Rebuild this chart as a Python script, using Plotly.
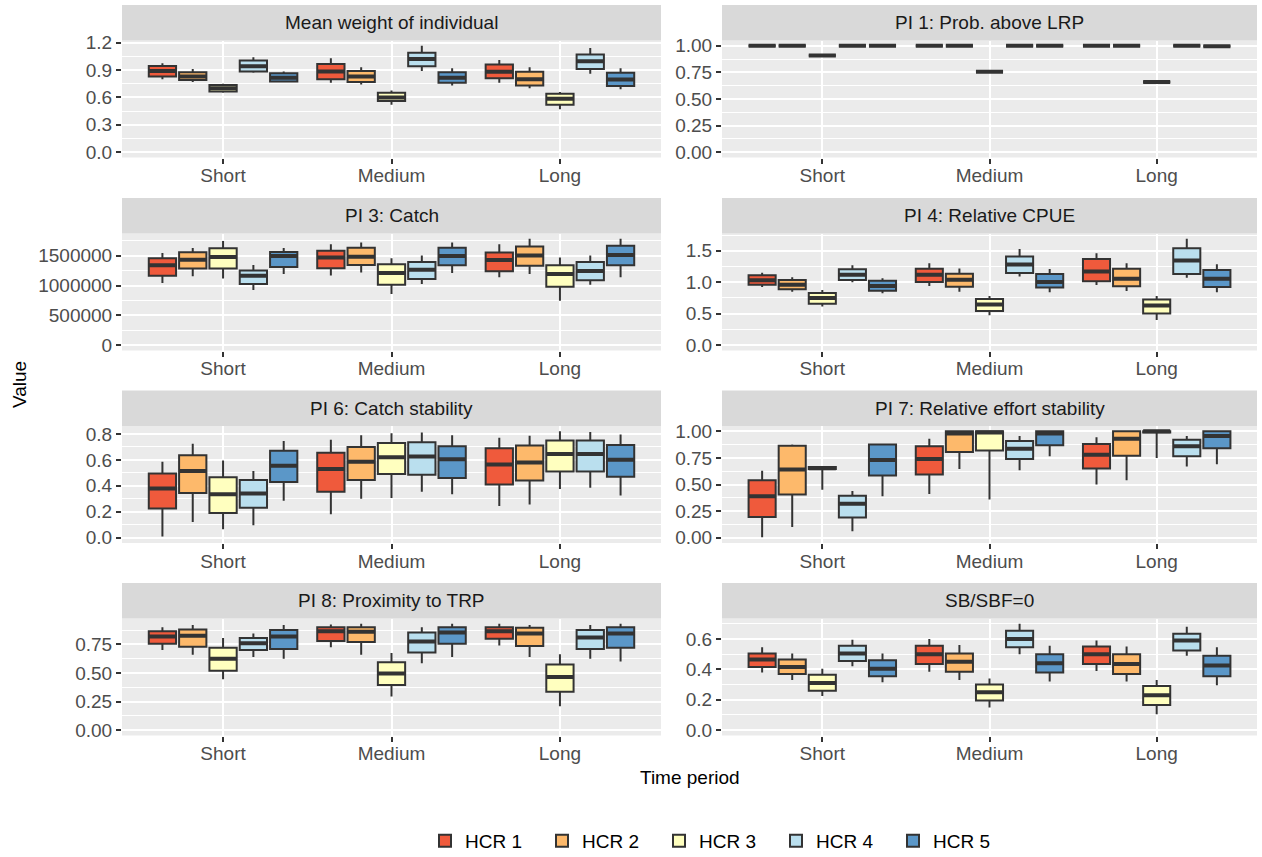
import plotly.graph_objects as go

# ---- categories and series -------------------------------------------------
periods = ["Short", "Medium", "Long"]
hcr_names = ["HCR 1", "HCR 2", "HCR 3", "HCR 4", "HCR 5"]
hcr_colors = ["#EF5A3C", "#FDB96B", "#FFFFBF", "#BADFEE", "#5B97C8"]

# Each stat array: one row per HCR, one value per period (Short, Medium, Long)

# Mean weight of individual
weight_lo = [[0.80, 0.76, 0.76], [0.77, 0.74, 0.70], [0.65, 0.52, 0.47], [0.87, 0.89, 0.86], [0.77, 0.73, 0.69]]
weight_q1 = [[0.83, 0.80, 0.81], [0.79, 0.77, 0.73], [0.665, 0.56, 0.52], [0.885, 0.94, 0.91], [0.775, 0.76, 0.725]]
weight_med = [[0.89, 0.885, 0.88], [0.83, 0.83, 0.80], [0.70, 0.60, 0.585], [0.94, 1.02, 0.995], [0.815, 0.815, 0.795]]
weight_q3 = [[0.945, 0.965, 0.96], [0.875, 0.89, 0.88], [0.735, 0.65, 0.64], [1.005, 1.09, 1.07], [0.865, 0.875, 0.87]]
weight_hi = [[0.975, 1.03, 1.01], [0.91, 0.93, 0.93], [0.75, 0.675, 0.66], [1.04, 1.165, 1.14], [0.885, 0.92, 0.92]]

# PI 1: Prob. above LRP (all quantiles coincide)
lrp_val = [[1.0, 1.0, 1.0], [1.0, 1.0, 1.0], [0.91, 0.757, 0.66], [1.0, 1.0, 1.0], [1.0, 1.0, 0.995]]

# PI 3: Catch
catch_lo = [[1045000, 1170000, 1140000], [1155000, 1220000, 1195000], [1120000, 860000, 745000], [925000, 1025000, 1015000], [1195000, 1210000, 1140000]]
catch_q1 = [[1165000, 1290000, 1240000], [1285000, 1345000, 1335000], [1285000, 1015000, 980000], [1025000, 1110000, 1090000], [1310000, 1340000, 1340000]]
catch_med = [[1340000, 1470000, 1430000], [1435000, 1485000, 1505000], [1480000, 1210000, 1195000], [1165000, 1265000, 1245000], [1495000, 1495000, 1515000]]
catch_q3 = [[1460000, 1585000, 1555000], [1560000, 1635000, 1655000], [1625000, 1360000, 1340000], [1255000, 1395000, 1395000], [1565000, 1635000, 1670000]]
catch_hi = [[1545000, 1695000, 1695000], [1630000, 1725000, 1785000], [1750000, 1460000, 1470000], [1345000, 1505000, 1505000], [1630000, 1725000, 1785000]]

# PI 4: Relative CPUE
cpue_lo = [[0.925, 0.94, 0.955], [0.85, 0.85, 0.86], [0.615, 0.475, 0.40], [1.0, 1.09, 1.07], [0.825, 0.84, 0.84]]
cpue_q1 = [[0.96, 1.005, 1.015], [0.89, 0.93, 0.935], [0.66, 0.545, 0.505], [1.035, 1.145, 1.13], [0.865, 0.915, 0.925]]
cpue_med = [[1.03, 1.12, 1.17], [0.96, 1.04, 1.055], [0.75, 0.645, 0.63], [1.12, 1.28, 1.345], [0.94, 1.005, 1.055]]
cpue_q3 = [[1.11, 1.215, 1.37], [1.035, 1.135, 1.215], [0.83, 0.735, 0.725], [1.205, 1.41, 1.54], [1.025, 1.13, 1.195]]
cpue_hi = [[1.15, 1.30, 1.46], [1.08, 1.22, 1.30], [0.875, 0.78, 0.78], [1.27, 1.53, 1.69], [1.065, 1.21, 1.285]]

# PI 6: Catch stability
cstab_lo = [[0.01, 0.18, 0.245], [0.12, 0.30, 0.255], [0.065, 0.305, 0.375], [0.095, 0.355, 0.385], [0.285, 0.335, 0.325]]
cstab_q1 = [[0.225, 0.355, 0.41], [0.345, 0.445, 0.44], [0.19, 0.49, 0.51], [0.23, 0.485, 0.51], [0.43, 0.46, 0.47]]
cstab_med = [[0.38, 0.53, 0.565], [0.515, 0.585, 0.58], [0.335, 0.62, 0.645], [0.34, 0.625, 0.645], [0.555, 0.605, 0.60]]
cstab_q3 = [[0.495, 0.655, 0.69], [0.635, 0.70, 0.71], [0.465, 0.73, 0.75], [0.445, 0.735, 0.75], [0.67, 0.705, 0.715]]
cstab_hi = [[0.585, 0.755, 0.77], [0.725, 0.79, 0.785], [0.595, 0.805, 0.82], [0.515, 0.81, 0.815], [0.745, 0.79, 0.795]]

# PI 7: Relative effort stability
estab_lo = [[0.005, 0.41, 0.50], [0.10, 0.645, 0.54], [0.45, 0.36, 0.75], [0.06, 0.635, 0.67], [0.39, 0.765, 0.69]]
estab_q1 = [[0.195, 0.595, 0.65], [0.405, 0.805, 0.77], [0.645, 0.82, 0.99], [0.19, 0.74, 0.765], [0.585, 0.87, 0.84]]
estab_med = [[0.39, 0.74, 0.78], [0.64, 0.98, 0.93], [0.653, 0.99, 1.0], [0.32, 0.835, 0.86], [0.73, 0.98, 0.955]]
estab_q3 = [[0.54, 0.86, 0.88], [0.865, 1.0, 1.0], [0.665, 1.0, 1.0], [0.395, 0.91, 0.92], [0.875, 1.0, 1.0]]
estab_hi = [[0.63, 0.93, 0.945], [0.875, 1.0, 1.0], [0.665, 1.0, 1.0], [0.44, 0.955, 0.955], [0.875, 1.0, 1.0]]

# PI 8: Proximity to TRP
trp_lo = [[0.70, 0.725, 0.74], [0.66, 0.66, 0.64], [0.445, 0.295, 0.21], [0.64, 0.585, 0.625], [0.625, 0.64, 0.60]]
trp_q1 = [[0.755, 0.78, 0.80], [0.73, 0.77, 0.735], [0.52, 0.395, 0.335], [0.70, 0.68, 0.71], [0.71, 0.755, 0.72]]
trp_med = [[0.82, 0.865, 0.865], [0.825, 0.86, 0.845], [0.625, 0.495, 0.465], [0.76, 0.775, 0.81], [0.82, 0.855, 0.845]]
trp_q3 = [[0.865, 0.90, 0.90], [0.88, 0.90, 0.895], [0.72, 0.595, 0.575], [0.805, 0.855, 0.875], [0.875, 0.90, 0.90]]
trp_hi = [[0.90, 0.925, 0.93], [0.92, 0.93, 0.92], [0.805, 0.675, 0.665], [0.845, 0.90, 0.92], [0.92, 0.93, 0.93]]

# SB/SBF=0
sb_lo = [[0.38, 0.385, 0.39], [0.33, 0.33, 0.32], [0.225, 0.15, 0.105], [0.42, 0.50, 0.49], [0.315, 0.32, 0.295]]
sb_q1 = [[0.415, 0.435, 0.435], [0.37, 0.385, 0.37], [0.26, 0.195, 0.165], [0.455, 0.545, 0.525], [0.355, 0.38, 0.355]]
sb_med = [[0.465, 0.50, 0.50], [0.415, 0.45, 0.435], [0.31, 0.25, 0.23], [0.505, 0.60, 0.59], [0.405, 0.44, 0.425]]
sb_q3 = [[0.505, 0.555, 0.55], [0.465, 0.505, 0.50], [0.365, 0.30, 0.29], [0.555, 0.655, 0.635], [0.46, 0.50, 0.49]]
sb_hi = [[0.545, 0.60, 0.59], [0.505, 0.56, 0.55], [0.405, 0.34, 0.33], [0.595, 0.70, 0.68], [0.505, 0.555, 0.545]]

# Facet titles and y-axis tick labels
panel_titles = ["Mean weight of individual", "PI 1: Prob. above LRP", "PI 3: Catch",
                "PI 4: Relative CPUE", "PI 6: Catch stability", "PI 7: Relative effort stability",
                "PI 8: Proximity to TRP", "SB/SBF=0"]
weight_ticks = ["0.0", "0.3", "0.6", "0.9", "1.2"]
lrp_ticks = ["0.00", "0.25", "0.50", "0.75", "1.00"]
catch_ticks = ["0", "500000", "1000000", "1500000"]
cpue_ticks = ["0.0", "0.5", "1.0", "1.5"]
cstab_ticks = ["0.0", "0.2", "0.4", "0.6", "0.8"]
estab_ticks = ["0.00", "0.25", "0.50", "0.75", "1.00"]
trp_ticks = ["0.00", "0.25", "0.50", "0.75"]
sb_ticks = ["0.0", "0.2", "0.4", "0.6"]

panels = [
    (weight_lo, weight_q1, weight_med, weight_q3, weight_hi, weight_ticks),
    (lrp_val, lrp_val, lrp_val, lrp_val, lrp_val, lrp_ticks),
    (catch_lo, catch_q1, catch_med, catch_q3, catch_hi, catch_ticks),
    (cpue_lo, cpue_q1, cpue_med, cpue_q3, cpue_hi, cpue_ticks),
    (cstab_lo, cstab_q1, cstab_med, cstab_q3, cstab_hi, cstab_ticks),
    (estab_lo, estab_q1, estab_med, estab_q3, estab_hi, estab_ticks),
    (trp_lo, trp_q1, trp_med, trp_q3, trp_hi, trp_ticks),
    (sb_lo, sb_q1, sb_med, sb_q3, sb_hi, sb_ticks),
]

# ---- page geometry (pixels) -------------------------------------------------
W, H = 1262, 857
COLS = [(122, 661), (722, 1257)]
STRIP_TOPS = [5, 198, 390.5, 583]
STRIP_H = 35.5
PANEL_H = 117
FONT = "Liberation Sans"
TICK_FONT = dict(family=FONT, size=19, color="#4D4D4D")
GRID = "#FFFFFF"
DARK = "#333333"


def fx(px):
    return px / W


def fy(py):
    return 1 - py / H


fig = go.Figure()
layout = dict(shapes=[], annotations=[])

for i, (lo, q1, med, q3, hi, ticktext) in enumerate(panels):
    r, c = divmod(i, 2)
    sfx = "" if i == 0 else str(i + 1)
    x0, x1 = COLS[c]
    top = STRIP_TOPS[r] + STRIP_H
    bot = top + PANEL_H

    tickvals = [float(t) for t in ticktext]
    step = tickvals[1] - tickvals[0]
    all_lo = min(min(v) for v in lo)
    all_hi = max(max(v) for v in hi)
    ymin, ymax = min(0.0, all_lo), max(0.0, all_hi)
    pad = 0.05 * (ymax - ymin)
    yr = [ymin - pad, ymax + pad]
    minor_vals = [tickvals[0] + step * (k + 0.5) for k in range(len(tickvals) + 1)]
    minor_vals = [m for m in minor_vals if yr[0] <= m <= yr[1]]

    for h in range(5):
        fig.add_trace(go.Box(
            x=periods, q1=q1[h], median=med[h], q3=q3[h],
            lowerfence=lo[h], upperfence=hi[h],
            name=hcr_names[h], legendgroup=hcr_names[h], showlegend=(i == 0),
            fillcolor=hcr_colors[h], line=dict(color=DARK, width=2),
            whiskerwidth=0, boxpoints=False, offsetgroup=str(h),
            xaxis="x" + sfx, yaxis="y" + sfx, hoverinfo="skip",
        ))
        # thicker median bar drawn over each box
        fig.add_trace(go.Box(
            x=periods, q1=med[h], median=med[h], q3=med[h],
            lowerfence=med[h], upperfence=med[h],
            name=hcr_names[h], legendgroup=hcr_names[h], showlegend=False,
            fillcolor="rgba(0,0,0,0)", line=dict(color=DARK, width=4),
            whiskerwidth=0, boxpoints=False, offsetgroup=str(h),
            xaxis="x" + sfx, yaxis="y" + sfx, hoverinfo="skip",
        ))

    layout["xaxis" + sfx] = dict(
        domain=[fx(x0), fx(x1)], anchor="y" + sfx, type="category",
        categoryorder="array", categoryarray=periods, range=[-0.6, 2.6],
        showgrid=True, gridcolor=GRID, gridwidth=2, zeroline=False, showline=False,
        ticks="outside", ticklen=5, tickwidth=1.5, tickcolor=DARK,
        tickfont=TICK_FONT, ticklabelstandoff=-4, fixedrange=True,
    )
    layout["yaxis" + sfx] = dict(
        domain=[fy(bot), fy(top)], anchor="x" + sfx, range=yr,
        tickmode="array", tickvals=tickvals, ticktext=ticktext,
        showgrid=True, gridcolor=GRID, gridwidth=2, zeroline=False, showline=False,
        minor=dict(tickmode="array", tickvals=minor_vals, showgrid=True,
                   gridcolor=GRID, gridwidth=1, ticks=""),
        ticks="outside", ticklen=5, tickwidth=1.5, tickcolor=DARK,
        tickfont=TICK_FONT, fixedrange=True,
    )

    # facet strip
    layout["shapes"].append(dict(
        type="rect", xref="paper", yref="paper", layer="below",
        x0=fx(x0), x1=fx(x1), y0=fy(STRIP_TOPS[r] + STRIP_H), y1=fy(STRIP_TOPS[r]),
        fillcolor="#D9D9D9", line=dict(width=0),
    ))
    layout["annotations"].append(dict(
        text=panel_titles[i], xref="paper", yref="paper",
        x=fx((x0 + x1) / 2), y=fy(STRIP_TOPS[r] + STRIP_H / 2),
        xanchor="center", yanchor="middle", showarrow=False,
        font=dict(family=FONT, size=19, color="#1A1A1A"),
    ))

layout["annotations"].append(dict(
    text="Value", xref="paper", yref="paper", x=fx(20), y=fy(385),
    textangle=-90, xanchor="center", yanchor="middle", showarrow=False,
    font=dict(family=FONT, size=19, color="#000000"),
))
layout["annotations"].append(dict(
    text="Time period", xref="paper", yref="paper", x=fx(689.5), y=fy(777),
    xanchor="center", yanchor="middle", showarrow=False,
    font=dict(family=FONT, size=19, color="#000000"),
))

fig.update_layout(
    width=W, height=H, margin=dict(l=0, r=0, t=0, b=0, autoexpand=False),
    paper_bgcolor="#FFFFFF", plot_bgcolor="#EBEBEB",
    boxmode="group", boxgap=0.1, boxgroupgap=0.1,
    showlegend=True,
    legend=dict(orientation="h", x=fx(425), xanchor="left", y=fy(841), yanchor="middle",
                font=dict(family=FONT, size=19, color="#000000"),
                entrywidth=72, entrywidthmode="pixels",
                bgcolor="rgba(0,0,0,0)", itemclick=False, itemdoubleclick=False),
    **layout,
)

fig.write_html("out.html")
